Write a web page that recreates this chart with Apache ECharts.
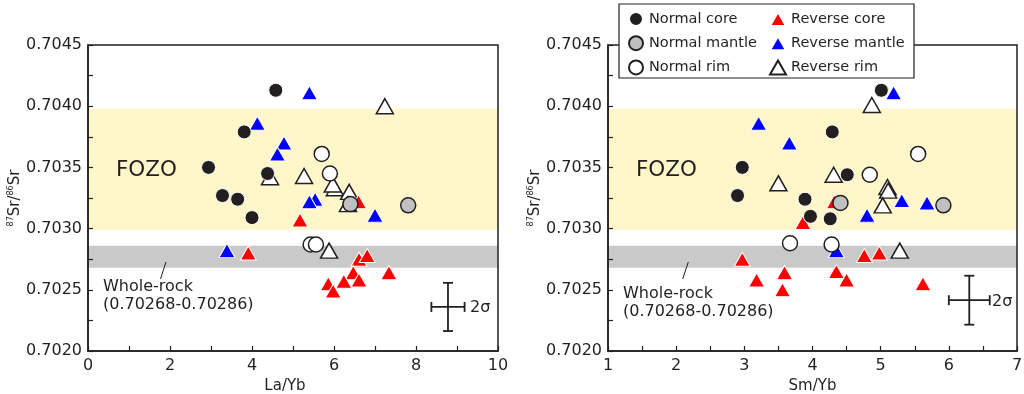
<!DOCTYPE html>
<html><head><meta charset="utf-8">
<script src="https://cdn.jsdelivr.net/npm/echarts@6/dist/echarts.min.js"></script>
<style>html,body{margin:0;padding:0;background:#fff}#c{width:1024px;height:394px}</style>
</head><body><div id="c"></div>
<script>
// ---- data: La/Yb panel ----
const laNormalCore = [[4.58,0.70413],[3.81,0.70379],[2.94,0.70350],[3.28,0.70327],[3.65,0.70324],[4.00,0.70309],[4.38,0.70345]];
const laNormalMantle = [[6.40,0.70320],[7.81,0.70319]];
const laNormalRim = [[5.70,0.70361],[5.90,0.70345],[5.43,0.70287],[5.56,0.70287]];
const laReverseCore = [[5.17,0.70307],[6.60,0.70322],[3.91,0.70280],[6.61,0.70275],[6.81,0.70278],[7.34,0.70264],[6.47,0.70264],[6.61,0.70258],[6.24,0.70257],[5.86,0.70255],[5.98,0.70249]];
const laReverseMantle = [[5.40,0.70411],[4.13,0.70386],[4.78,0.70370],[4.62,0.70361],[5.54,0.70324],[5.40,0.70322],[7.00,0.70311],[3.39,0.70282]];
const laReverseRim = [[7.24,0.70400],[5.27,0.70343],[4.44,0.70342],[6.02,0.70333],[5.97,0.70336],[6.37,0.70330],[6.34,0.70320],[5.88,0.70282]];
// ---- data: Sm/Yb panel ----
const smNormalCore = [[5.01,0.70413],[4.29,0.70379],[2.97,0.70350],[2.90,0.70327],[3.89,0.70324],[3.97,0.70310],[4.26,0.70308],[4.51,0.70344]];
const smNormalMantle = [[4.41,0.70321],[5.92,0.70319]];
const smNormalRim = [[5.55,0.70361],[4.84,0.70344],[3.67,0.70288],[4.28,0.70287]];
const smReverseCore = [[4.32,0.70322],[3.86,0.70305],[2.97,0.70275],[3.18,0.70258],[3.56,0.70250],[3.59,0.70264],[4.35,0.70265],[4.50,0.70258],[4.76,0.70278],[4.98,0.70280],[5.62,0.70255]];
const smReverseMantle = [[5.19,0.70411],[3.21,0.70386],[3.66,0.70370],[4.80,0.70311],[5.31,0.70323],[5.68,0.70321],[4.35,0.70282]];
const smReverseRim = [[4.87,0.70401],[3.50,0.70337],[4.31,0.70344],[5.10,0.70334],[5.11,0.70331],[5.03,0.70319],[5.28,0.70282]];
// ---- reference bands ----
const fozoBand = [0.70299, 0.70398];
const wholeRockBand = [0.70268, 0.70286];
// ---- 2 sigma error crosses: [x, y, halfX, halfY] ----
const laErr = [[8.78, 0.70236, 0.405, 0.000197]];
const smErr = [[6.30, 0.702415, 0.30, 0.00020]];
const seriesNames = ['Normal core','Normal mantle','Normal rim','Reverse core','Reverse mantle','Reverse rim'];
const yTicks = {min:0.7020, max:0.7045, interval:0.0005};

const FONT = 'DejaVu Sans';
const INK = '#231f20';
const styles = {
  'Normal core':   {symbol:'circle', size:14, color:INK, border:'#ffffff', bw:1, z:7},
  'Normal mantle': {symbol:'circle', size:15, color:'#c0c0c0', border:INK, bw:1.5, z:6},
  'Normal rim':    {symbol:'circle', size:15, color:'#ffffff', border:INK, bw:1.5, z:5},
  'Reverse core':  {symbol:'triangle', size:[16,14], color:'#ff0000', border:'#ffffff', bw:1, z:4},
  'Reverse mantle':{symbol:'triangle', size:[16,14], color:'#0000ff', border:'#ffffff', bw:1, z:3},
  'Reverse rim':   {symbol:'triangle', size:[17,15], color:'#ffffff', border:INK, bw:1.5, z:2}
};
const laSets = [laNormalCore, laNormalMantle, laNormalRim, laReverseCore, laReverseMantle, laReverseRim];
const smSets = [smNormalCore, smNormalMantle, smNormalRim, smReverseCore, smReverseMantle, smReverseRim];

function scatter(name, data, idx){
  const s = styles[name];
  return {type:'scatter', name, data, xAxisIndex:idx, yAxisIndex:idx, symbol:s.symbol, symbolSize:s.size, z:s.z,
    itemStyle:{color:s.color, borderColor:s.border, borderWidth:s.bw, opacity:1},
    emphasis:{disabled:true}, silent:true};
}
function bands(idx){
  return {type:'scatter', name:'bands'+idx, data:[], xAxisIndex:idx, yAxisIndex:idx, z:1, silent:true,
    markArea:{silent:true, label:{show:false}, data:[
      [{yAxis:fozoBand[0], itemStyle:{color:'#fff6c9'}},{yAxis:fozoBand[1]}],
      [{yAxis:wholeRockBand[0], itemStyle:{color:'#c9c9c9'}},{yAxis:wholeRockBand[1]}]
    ]},
    markLine:{silent:true, symbol:'none', label:{show:false}, animation:false, data:[
      {yAxis:fozoBand[0], lineStyle:{color:'#8a8a8a', type:[6,4], width:1.5}},
      {yAxis:fozoBand[1], lineStyle:{color:'#8a8a8a', type:[6,4], width:1.5}},
      {yAxis:wholeRockBand[0], lineStyle:{color:'#8a8a8a', type:[2,2], width:1}},
      {yAxis:wholeRockBand[1], lineStyle:{color:'#8a8a8a', type:[2,2], width:1}}
    ]}};
}
function errCross(data, idx){
  return {type:'custom', name:'err'+idx, data, xAxisIndex:idx, yAxisIndex:idx, z:8, silent:true,
    renderItem:function(params, api){
      const x=api.value(0), y=api.value(1), dx=api.value(2), dy=api.value(3);
      const l=api.coord([x-dx,y]), r=api.coord([x+dx,y]), t=api.coord([x,y+dy]), b=api.coord([x,y-dy]);
      const st={stroke:INK, lineWidth:1.8}; const c=5;
      return {type:'group', children:[
        {type:'line', shape:{x1:l[0],y1:l[1],x2:r[0],y2:r[1]}, style:st},
        {type:'line', shape:{x1:t[0],y1:t[1],x2:b[0],y2:b[1]}, style:st},
        {type:'line', shape:{x1:l[0],y1:l[1]-c,x2:l[0],y2:l[1]+c}, style:st},
        {type:'line', shape:{x1:r[0],y1:r[1]-c,x2:r[0],y2:r[1]+c}, style:st},
        {type:'line', shape:{x1:t[0]-c,y1:t[1],x2:t[0]+c,y2:t[1]}, style:st},
        {type:'line', shape:{x1:b[0]-c,y1:b[1],x2:b[0]+c,y2:b[1]}, style:st}
      ]};
    }};
}
const axisCommon = {
  axisLine:{show:true, onZero:false, lineStyle:{color:INK, width:1.5}},
  axisTick:{show:true, inside:true, length:5, lineStyle:{color:INK, width:1.2}},
  minorTick:{show:true, splitNumber:2, length:5, lineStyle:{color:INK, width:1.2}},
  splitLine:{show:false}, minorSplitLine:{show:false}, z:10
};
function xAxis(idx, min, max, interval, name, pad){
  return Object.assign({type:'value', gridIndex:idx, min, max, interval, name, nameLocation:'middle', nameGap:21,
    nameTextStyle:{fontFamily:FONT, fontSize:15, color:INK, padding:pad},
    axisLabel:{fontFamily:FONT, fontSize:16, color:INK, margin:7}}, axisCommon);
}
function yAxis(idx){
  return Object.assign({type:'value', gridIndex:idx, min:yTicks.min, max:yTicks.max, interval:yTicks.interval,
    name:'{sup|87}{b|Sr/}{sup|86}{b|Sr}', nameLocation:'middle', nameGap:64, nameRotate:90,
    nameTextStyle:{rich:{b:{fontFamily:FONT, fontSize:15, color:INK, lineHeight:16},
      sup:{fontFamily:FONT, fontSize:8, color:INK, lineHeight:9, verticalAlign:'top'}}},
    axisLabel:{fontFamily:FONT, fontSize:16, color:INK, margin:6, formatter:v=>v.toFixed(4)}}, axisCommon);
}
const series = [bands(0), bands(1)];
seriesNames.forEach((n,i)=>{ series.push(scatter(n, laSets[i], 0)); series.push(scatter(n, smSets[i], 1)); });
series.push(errCross(laErr, 0), errCross(smErr, 1));

const txt = (x,y,text,size,extra)=>Object.assign({type:'text', x, y, z:15, style:{text, fontFamily:FONT, fontSize:size, fill:INK, textVerticalAlign:'middle'}}, extra||{});
const legendText = {fontFamily:FONT, fontSize:14.5, color:INK, lineHeight:14};
const option = {
  animation:false,
  grid:[
    {left:88, top:45, width:410, height:306, outerBoundsMode:'none', containLabel:false, show:true, borderColor:INK, borderWidth:1.5, backgroundColor:'transparent', z:10},
    {left:608, top:45, width:409, height:306, outerBoundsMode:'none', containLabel:false, show:true, borderColor:INK, borderWidth:1.5, backgroundColor:'transparent', z:10}
  ],
  xAxis:[xAxis(0,0,10,2,'La/Yb',[0,16,0,0]), xAxis(1,1,7,1,'Sm/Yb',[0,0,0,0])],
  yAxis:[yAxis(0), yAxis(1)],
  legend:[
    {data:seriesNames.slice(0,3), orient:'vertical', left:628, top:11, itemWidth:16, itemHeight:14, itemGap:8.2, padding:0, textStyle:legendText, z:21, selectedMode:false},
    {data:seriesNames.slice(3), orient:'vertical', left:769, top:11, itemWidth:16, itemHeight:14, itemGap:8.2, padding:0, textStyle:legendText, z:21, selectedMode:false}
  ],
  graphic:[
    {type:'rect', z:20, shape:{x:619, y:4, width:295, height:74}, style:{fill:'#ffffff', stroke:INK, lineWidth:1.2}},
    txt(116, 170, 'FOZO', 21.5),
    txt(636, 170, 'FOZO', 21.5),
    txt(103, 287, 'Whole-rock', 16),
    txt(103, 305, '(0.70268-0.70286)', 16),
    txt(623, 294, 'Whole-rock', 16),
    txt(623, 312, '(0.70268-0.70286)', 16),
    {type:'line', z:15, shape:{x1:166, y1:262, x2:160.5, y2:279}, style:{stroke:INK, lineWidth:1}},
    {type:'line', z:15, shape:{x1:688.3, y1:262, x2:682.7, y2:279}, style:{stroke:INK, lineWidth:1}},
    txt(470, 308, '2σ', 16),
    txt(992, 302, '2σ', 16)
  ],
  series
};
echarts.init(document.getElementById('c'), null, {renderer:'canvas'}).setOption(option);
</script></body></html>
